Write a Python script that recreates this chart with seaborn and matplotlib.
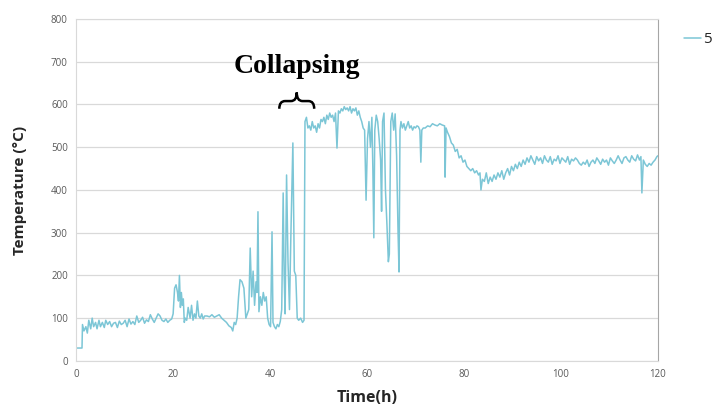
import numpy as np
import pandas as pd
import matplotlib
matplotlib.use('Agg')
import matplotlib.pyplot as plt
from matplotlib.path import Path
from matplotlib.patches import PathPatch
import seaborn as sns

# valores (tempo em h, temperatura em graus C)
tempo_inicio = [0, 1.2, 1.3, 1.6, 2.0, 2.3, 2.6, 3.0, 3.3, 3.6, 4.0, 4.3, 4.7, 5.0, 5.4, 5.8, 6.1, 6.5, 6.9, 7.3,
                7.7, 8.1, 8.5, 8.9, 9.3, 9.7, 10.1, 10.5, 10.9, 11.3, 11.7, 12.1, 12.5, 12.9, 13.3, 13.7, 14.1, 14.5,
                14.9, 15.3, 15.7, 16.1, 16.5, 16.9, 17.3, 17.7, 18.1, 18.5, 18.9, 19.3, 19.7]
temp_inicio = [30, 30, 85, 70, 80, 65, 95, 75, 100, 80, 90, 75, 95, 80, 90, 78, 95, 85, 92, 80,
               88, 90, 78, 93, 85, 88, 95, 80, 98, 86, 92, 85, 105, 90, 95, 102, 88, 96, 92, 108,
               98, 90, 100, 110, 105, 95, 92, 98, 90, 95, 98]

tempo_20_33 = [20.0, 20.3, 20.6, 20.9, 21.1, 21.3, 21.5, 21.7, 21.9, 22.1, 22.3, 22.5, 22.8, 23.1, 23.5, 23.8,
               24.1, 24.4, 24.7, 25.0, 25.3, 25.6, 25.9, 26.2, 26.5, 27.0, 27.5, 28.0, 28.5, 29.0, 29.5, 30.0,
               30.5, 31.0, 31.5, 32.0, 32.3, 32.6, 32.9, 33.2]
temp_20_33 = [110, 170, 178, 160, 140, 200, 125, 160, 130, 145, 90, 100, 95, 125, 100, 130, 95, 110, 100, 140,
              105, 100, 110, 98, 105, 105, 103, 108, 102, 105, 108, 100, 95, 90, 82, 78, 70, 90, 85, 100]

tempo_colapso = [33.5, 33.8, 34.2, 34.6, 35.0, 35.3, 35.6, 35.9, 36.2, 36.5, 36.8, 37.1, 37.3, 37.5, 37.7, 38.0,
                 38.3, 38.6, 38.9, 39.2, 39.5, 39.8, 40.1, 40.4, 40.6, 40.9, 41.2, 41.5, 41.8, 42.1, 42.4, 42.7,
                 42.9, 43.1, 43.4, 43.7, 44.0, 44.3, 44.7, 45.0, 45.3, 45.6, 45.9, 46.3, 46.7, 47.0]
temp_colapso = [150, 190, 185, 170, 100, 110, 120, 264, 150, 210, 130, 185, 160, 349, 115, 150, 130, 160, 140, 150,
                100, 85, 80, 302, 90, 80, 75, 85, 80, 92, 120, 393, 200, 110, 435, 230, 120, 300, 510, 210,
                200, 100, 95, 100, 90, 95]

tempo_pico = [47.2, 47.5, 47.8, 48.1, 48.4, 48.7, 49.0, 49.3, 49.6, 49.9, 50.2, 50.5, 50.8, 51.1, 51.4, 51.7,
              52.0, 52.3, 52.6, 52.9, 53.2, 53.5, 53.8, 54.1, 54.4, 54.7, 55.0, 55.3, 55.6, 55.9, 56.2, 56.5,
              56.8, 57.1, 57.4, 57.7, 58.0, 58.3, 58.6, 58.9, 59.2, 59.5, 59.8]
temp_pico = [560, 570, 545, 550, 540, 560, 545, 550, 535, 555, 545, 565, 560, 570, 555, 575, 565, 580, 570, 575,
             560, 580, 498, 585, 580, 590, 585, 595, 588, 592, 585, 595, 580, 590, 585, 592, 575, 585, 570, 560,
             545, 540, 376]

tempo_quedas = [60.1, 60.4, 60.7, 61.0, 61.2, 61.4, 61.6, 61.9, 62.2, 62.5, 62.8, 63.0, 63.2, 63.5, 63.8, 64.1,
                64.4, 64.6, 64.9, 65.2, 65.5, 65.8, 66.1, 66.4, 66.6, 66.8, 67.0, 67.3, 67.6, 67.9, 68.2, 68.5,
                68.8, 69.1, 69.4, 69.7, 70.0, 70.3, 70.6, 70.9, 71.1, 71.3, 71.6]
temp_quedas = [520, 560, 500, 570, 450, 288, 540, 575, 560, 520, 470, 350, 560, 580, 400, 320, 232, 250, 560, 580,
               540, 578, 480, 300, 208, 540, 560, 545, 555, 540, 550, 560, 545, 550, 540, 548, 545, 550, 548, 540,
               465, 540, 545]

tempo_descida = [72.0, 72.5, 73.0, 73.5, 74.0, 74.5, 75.0, 75.5, 76.0, 76.1, 76.3, 76.6, 77.0, 77.4, 77.8, 78.2,
                 78.6, 79.0, 79.4, 79.8, 80.2, 80.6, 81.0, 81.4, 81.8, 82.2, 82.6, 83.0, 83.3, 83.5, 83.8, 84.2,
                 84.6, 85.0]
temp_descida = [545, 550, 548, 555, 552, 550, 555, 552, 550, 430, 545, 535, 525, 510, 505, 490, 495, 475, 480, 465,
                470, 455, 450, 445, 450, 440, 445, 435, 440, 400, 425, 420, 440, 415]

tempo_final = [85.4, 85.8, 86.2, 86.6, 87.0, 87.4, 87.8, 88.2, 88.6, 89.0, 89.4, 89.8, 90.2, 90.6, 91.0, 91.4,
               91.8, 92.2, 92.6, 93.0, 93.4, 93.8, 94.2, 94.6, 95.0, 95.4, 95.8, 96.2, 96.6, 97.0, 97.4, 97.8,
               98.2, 98.6, 99.0, 99.4, 99.8, 100.2, 100.6, 101.0, 101.4, 101.8, 102.2, 102.6, 103.0, 103.4,
               103.8, 104.2, 104.6, 105.0, 105.4, 105.8, 106.2, 106.6, 107.0, 107.4, 107.8, 108.2, 108.6,
               109.0, 109.4, 109.8, 110.2, 110.6, 111.0, 111.4, 111.8, 112.2, 112.6, 113.0, 113.4, 113.8,
               114.2, 114.6, 115.0, 115.4, 115.8, 116.2, 116.5, 116.7, 117.0, 117.4, 117.8, 118.2, 118.6,
               119.0, 119.4, 119.8, 120.0]
temp_final = [430, 420, 435, 425, 440, 430, 445, 425, 440, 450, 435, 455, 445, 460, 450, 465, 455, 470, 460, 475,
              465, 480, 470, 460, 478, 468, 475, 462, 480, 470, 465, 478, 460, 472, 468, 480, 462, 475, 470, 465,
              478, 460, 472, 468, 475, 470, 462, 458, 465, 460, 470, 455, 465, 470, 462, 475, 468, 460, 472, 465,
              470, 458, 475, 468, 462, 470, 480, 470, 462, 475, 478, 470, 465, 480, 472, 468, 482, 470, 478, 393,
              470, 460, 455, 462, 458, 465, 470, 478, 480]

df = pd.DataFrame({
    'tempo': tempo_inicio + tempo_20_33 + tempo_colapso + tempo_pico + tempo_quedas + tempo_descida + tempo_final,
    'temperatura': temp_inicio + temp_20_33 + temp_colapso + temp_pico + temp_quedas + temp_descida + temp_final,
})

sns.set_style("white")
plt.rcParams['font.family'] = ['Open Sans', 'DejaVu Sans']

fig = plt.figure(figsize=(7.12, 4.05), dpi=100)
ax = fig.add_axes([0.107, 0.109, 0.817, 0.844])

sns.lineplot(x='tempo', y='temperatura', data=df, estimator=None, sort=False,
             color='#7cc6d6', linewidth=1.1, label='5', ax=ax)

ax.set_xlim(0, 120)
ax.set_ylim(0, 800)
ax.set_xticks([0, 20, 40, 60, 80, 100, 120])
ax.set_yticks(range(0, 801, 100))
ax.yaxis.grid(True, color='#d9d9d9', linewidth=0.9)
ax.xaxis.grid(False)
for lado in ['left', 'bottom', 'top']:
    ax.spines[lado].set_color('#d9d9d9')
ax.spines['right'].set_color('#a6a6a6')
ax.tick_params(axis='x', labelsize=7, colors='#595959', length=3, color='#d9d9d9', pad=3)
ax.tick_params(axis='y', labelsize=7, colors='#595959', length=0, pad=6)

ax.set_xlabel('Time(h)', fontsize=11.5, fontweight='bold', color='#262626', labelpad=7)
ax.set_ylabel('Temperature (°C)', fontsize=11, fontweight='bold', color='#262626', labelpad=17)

ax.text(45.5, 688, 'Collapsing', family='Liberation Serif', fontsize=20, fontweight='bold',
        ha='center', va='center', color='black')

# chave "}" desenhada por baixo do texto
x0, x1, xc = 41.9, 49.1, 45.5
yb, ym, yt = 590, 608, 628
d = 1.2
chave = Path(
    [(x0, yb), (x0, ym), (x0 + d, ym), (xc - d, ym), (xc, ym), (xc, yt),
     (xc, ym), (xc + d, ym), (x1 - d, ym), (x1, ym), (x1, yb)],
    [Path.MOVETO, Path.CURVE3, Path.CURVE3, Path.LINETO, Path.CURVE3, Path.CURVE3,
     Path.CURVE3, Path.CURVE3, Path.LINETO, Path.CURVE3, Path.CURVE3])
ax.add_patch(PathPatch(chave, facecolor='none', edgecolor='black', linewidth=1.8, clip_on=False))

ax.legend(loc='upper left', bbox_to_anchor=(1.035, 0.98), frameon=False, handlelength=1.1,
          handletextpad=0.15, borderaxespad=0, fontsize=11)

plt.savefig('out.png', dpi=100)
